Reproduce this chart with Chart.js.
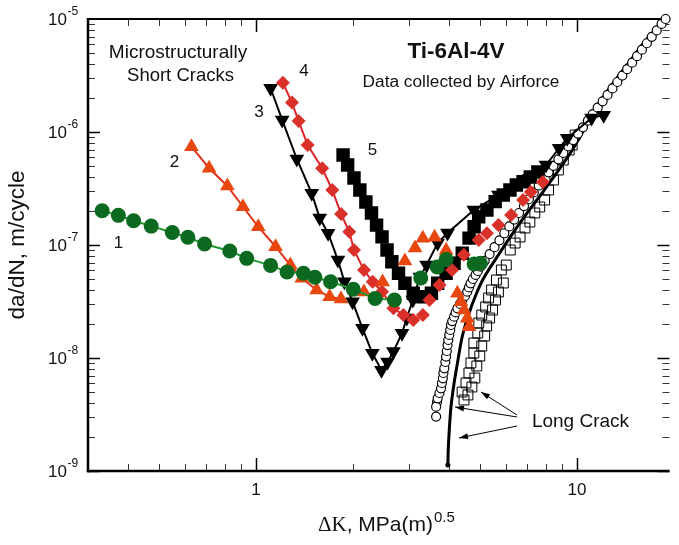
<!doctype html>
<html>
<head>
<meta charset="utf-8">
<title>Ti-6Al-4V short crack growth</title>
<script src="https://cdn.jsdelivr.net/npm/chart.js@4.4.1/dist/chart.umd.min.js"></script>
<style>
  html, body { margin: 0; padding: 0; background: #fff; overflow: hidden; }
  canvas { display: block; }
</style>
</head>
<body>
<canvas id="mycanvas" width="679" height="545"></canvas>
<script>
// values: dK in MPa(m)^0.5, da/dN in m/cycle
var crack1K    = [0.332, 0.373, 0.416, 0.472, 0.549, 0.614, 0.692, 0.829, 0.936, 1.111, 1.25, 1.406, 1.526, 1.708, 2.01, 2.35, 2.70];
var crack1Rate = [2.01e-7, 1.83e-7, 1.64e-7, 1.47e-7, 1.29e-7, 1.17e-7, 1.02e-7, 8.85e-8, 7.62e-8, 6.6e-8, 5.77e-8, 5.62e-8, 5.18e-8, 4.73e-8, 4.06e-8, 3.37e-8, 3.26e-8];
var crack1bK    = [3.26, 3.67, 3.91, 4.78, 5.0];
var crack1bRate = [5.1e-8, 6.4e-8, 7.46e-8, 6.8e-8, 6.89e-8];

var crack2K    = [0.630, 0.715, 0.815, 0.911, 1.017, 1.151, 1.28, 1.39, 1.545, 1.696, 1.84];
var crack2Rate = [7.41e-7, 4.78e-7, 3.33e-7, 2.18e-7, 1.45e-7, 9.66e-8, 6.65e-8, 5.07e-8, 4.0e-8, 3.48e-8, 3.33e-8];
var crack2bK    = [2.17, 2.48, 2.91, 3.13, 3.31, 3.60, 3.91, 4.24, 4.35, 4.45, 4.55, 4.61];
var crack2bRate = [3.84e-8, 4.71e-8, 7.2e-8, 9.4e-8, 1.15e-7, 1.17e-7, 9.0e-8, 3.74e-8, 3.15e-8, 2.66e-8, 2.25e-8, 1.89e-8];

var crack3K    = [1.111, 1.207, 1.341, 1.492, 1.58, 1.678, 1.80, 1.886, 2.0, 2.147, 2.304, 2.46, 2.57, 2.68, 2.85, 2.95, 3.08, 3.24, 3.40, 3.68, 3.95, 4.77, 5.69, 7.11, 8.0, 8.79, 9.32, 11.1, 12.1];
var crack3Rate = [2.44e-6, 1.28e-6, 5.77e-7, 2.87e-7, 1.73e-7, 1.27e-7, 7.36e-8, 4.73e-8, 3.15e-8, 1.83e-8, 1.10e-8, 7.8e-9, 9.2e-9, 1.14e-8, 1.66e-8, 2.26e-8, 3.26e-8, 5.2e-8, 6.65e-8, 1.04e-7, 1.28e-7, 2.04e-7, 2.77e-7, 3.89e-7, 5.1e-7, 7.18e-7, 8.8e-7, 1.33e-6, 1.41e-6];

var crack4K    = [1.213, 1.295, 1.358, 1.449, 1.608, 1.729, 1.842, 1.953, 2.02, 2.17, 2.31, 2.47, 2.68, 2.88, 3.09, 3.31];
var crack4Rate = [2.73e-6, 1.82e-6, 1.25e-6, 7.67e-7, 4.78e-7, 3.07e-7, 1.88e-7, 1.31e-7, 9.03e-8, 6.01e-8, 4.73e-8, 3.86e-8, 2.75e-8, 2.40e-8, 2.17e-8, 2.40e-8];
var crack4bK    = [3.47, 3.73, 4.08, 4.44, 4.94, 5.24, 5.69, 6.23, 6.79, 7.18, 7.82];
var crack4bRate = [3.26e-8, 4.43e-8, 6.0e-8, 8.2e-8, 1.11e-7, 1.27e-7, 1.5e-7, 1.84e-7, 2.5e-7, 2.94e-7, 3.61e-7];

var crack5K    = [1.868, 1.93, 2.02, 2.107, 2.20, 2.29, 2.375, 2.47, 2.56, 2.65, 2.78, 2.91, 3.09, 3.31, 3.52, 3.68, 3.91, 4.14, 4.39, 4.61, 4.78, 4.94, 5.24, 5.56, 5.89, 6.18, 6.47, 6.79, 7.15, 7.55];
var crack5Rate = [6.25e-7, 5.1e-7, 3.92e-7, 3.07e-7, 2.40e-7, 1.92e-7, 1.50e-7, 1.18e-7, 9.03e-8, 7.11e-8, 5.62e-8, 4.58e-8, 3.74e-8, 3.49e-8, 3.74e-8, 4.58e-8, 5.62e-8, 6.89e-8, 8.45e-8, 1.15e-7, 1.45e-7, 1.78e-7, 2.04e-7, 2.42e-7, 2.77e-7, 3.07e-7, 3.40e-7, 3.63e-7, 4.0e-7, 4.43e-7];

var longCircK = [3.64, 3.663, 3.64, 3.68, 3.728, 3.77, 3.794, 3.82, 3.835, 3.86, 3.889, 3.91, 3.93, 3.95, 3.972, 4.0, 4.028, 4.05, 4.086, 4.14, 4.188, 4.24, 4.322, 4.39, 4.478, 4.55, 4.605, 4.66, 4.738, 4.83, 4.908, 5.0,
  5.156, 5.341, 5.533, 5.731, 5.936, 6.149, 6.369, 6.597, 6.834, 7.079, 7.333, 7.596, 7.98, 8.152, 8.444, 8.747, 9.061, 9.386, 9.723, 10.07, 10.43, 10.81, 11.19, 11.59, 12.01, 12.44, 12.89, 13.35, 13.83, 14.32, 14.84, 15.37, 15.92, 16.49, 17.08, 17.70, 18.33, 18.86];
var longCircRate = [3.03e-9, 4.08e-9, 3.71e-9, 4.40e-9, 4.9e-9, 5.39e-9, 6.01e-9, 6.61e-9, 7.37e-9, 8.1e-9, 9.22e-9, 1.03e-8, 1.153e-8, 1.30e-8, 1.443e-8, 1.60e-8, 1.77e-8, 1.96e-8, 2.12e-8, 2.32e-8, 2.53e-8, 2.75e-8, 3.01e-8, 3.26e-8, 3.54e-8, 3.86e-8, 4.21e-8, 4.58e-8, 5.0e-8, 5.43e-8, 5.89e-8, 6.43e-8,
  7.24e-8, 8.32e-8, 9.57e-8, 1.10e-7, 1.27e-7, 1.46e-7, 1.68e-7, 1.92e-7, 2.21e-7, 2.54e-7, 2.92e-7, 3.36e-7, 3.86e-7, 4.40e-7, 5.02e-7, 5.73e-7, 6.53e-7, 7.45e-7, 8.49e-7, 9.68e-7, 1.10e-6, 1.26e-6, 1.44e-6, 1.64e-6, 1.87e-6, 2.13e-6, 2.43e-6, 2.77e-6, 3.16e-6, 3.60e-6, 4.11e-6, 4.69e-6, 5.35e-6, 6.10e-6, 6.95e-6, 7.93e-6, 9.05e-6, 1.0e-5];

var longSqK = [4.446, 4.385, 4.573, 4.509, 4.704, 4.605, 4.805, 4.671, 4.873, 4.770, 4.977, 4.770, 5.048, 4.907, 5.156, 4.942, 5.229, 5.048, 5.341, 5.192, 5.455, 5.303, 5.572, 5.416, 5.690, 5.610, 5.893,
  5.811, 6.020, 6.193, 6.415, 6.645, 6.883, 7.130, 7.386, 7.650, 7.925, 8.152, 8.444, 8.747, 9.061, 9.451, 9.654, 9.86];
var longSqRate = [4.25e-9, 5.0e-9, 4.71e-9, 6.01e-9, 5.54e-9, 7.37e-9, 6.65e-9, 9.03e-9, 8.5e-9, 1.107e-8, 1.041e-8, 1.357e-8, 1.277e-8, 1.664e-8, 1.566e-8, 2.04e-8, 1.92e-8, 2.40e-8, 2.26e-8, 2.83e-8, 2.66e-8, 3.40e-8, 3.26e-8, 4.0e-8, 3.84e-8, 4.90e-8, 4.61e-8,
  6.01e-8, 6.65e-8, 9.03e-8, 1.041e-7, 1.177e-7, 1.414e-7, 1.597e-7, 1.92e-7, 2.17e-7, 2.50e-7, 3.07e-7, 3.76e-7, 4.61e-7, 5.65e-7, 6.93e-7, 7.67e-7, 9.41e-7];

var longFitK    = [3.96, 3.97, 4.0, 4.05, 4.14, 4.24, 4.39, 4.61, 4.84, 5.12, 5.69, 6.32, 7.03, 7.82, 8.68, 9.66, 10.7, 11.9, 13.3, 14.7, 16.4, 18.2, 19.1];
var longFitRate = [1.13e-9, 1.53e-9, 2.31e-9, 3.71e-9, 5.97e-9, 8.97e-9, 1.55e-8, 2.49e-8, 3.61e-8, 5.1e-8, 8.17e-8, 1.28e-7, 1.96e-7, 2.94e-7, 4.43e-7, 6.93e-7, 1.15e-6, 1.92e-6, 3.0e-6, 4.33e-6, 6.52e-6, 8.85e-6, 1.0e-5];

var xTickLabels = ['1', '10'];
var yTickLabels = ['-9', '-8', '-7', '-6', '-5'];

function pts(k, r) {
  return k.map(function (v, i) { return { x: v, y: r[i] }; });
}

var green = '#0b6a1f', orange = '#e8470f', red = '#d9302a';

// first dataset is drawn on top
var datasets = [
  { data: pts(crack1K, crack1Rate), showLine: true, borderColor: '#1f9a2e', borderWidth: 2,
    pointStyle: 'circle', pointRadius: 7.5, pointBackgroundColor: green, pointBorderWidth: 0 },
  { data: pts(crack1bK, crack1bRate), showLine: false,
    pointStyle: 'circle', pointRadius: 7.5, pointBackgroundColor: green, pointBorderWidth: 0 },
  { data: pts(crack2K, crack2Rate), showLine: true, borderColor: '#e2321c', borderWidth: 2,
    pointStyle: 'triangle', pointRadius: 8.5, pointBackgroundColor: orange, pointBorderWidth: 0 },
  { data: pts(crack2bK, crack2bRate), showLine: false,
    pointStyle: 'triangle', pointRadius: 8.5, pointBackgroundColor: orange, pointBorderWidth: 0 },
  { data: pts(crack4K, crack4Rate), showLine: true, borderColor: '#e0242a', borderWidth: 2,
    pointStyle: 'rectRot', pointRadius: 7, pointBackgroundColor: red, pointBorderWidth: 0 },
  { data: pts(crack4bK, crack4bRate), showLine: false,
    pointStyle: 'rectRot', pointRadius: 7, pointBackgroundColor: red, pointBorderWidth: 0 },
  { data: pts(crack3K, crack3Rate), showLine: true, borderColor: '#000', borderWidth: 2,
    pointStyle: 'triangle', rotation: 180, pointRadius: 8.5, pointBackgroundColor: '#000', pointBorderWidth: 0 },
  { data: pts(crack5K, crack5Rate), showLine: false,
    pointStyle: 'rect', pointRadius: 9.5, pointBackgroundColor: '#000', pointBorderWidth: 0 },
  { data: pts(longCircK, longCircRate), showLine: false, clip: false,
    pointStyle: 'circle', pointRadius: 4.5, pointBackgroundColor: '#fff', pointBorderColor: '#000', pointBorderWidth: 1.2 },
  { data: pts(longFitK, longFitRate), showLine: true, borderColor: '#000', borderWidth: 3, tension: 0.3,
    pointRadius: longFitK.map(function (v, i) { return i === 0 ? 2.5 : 0; }), pointBackgroundColor: '#000', pointBorderWidth: 0 },
  { data: pts(longSqK, longSqRate), showLine: false,
    pointStyle: 'rect', pointRadius: 7, pointBackgroundColor: 'rgba(0,0,0,0)', pointBorderColor: '#000', pointBorderWidth: 1 }
];

function seg(ctx, x1, y1, x2, y2) {
  ctx.beginPath(); ctx.moveTo(x1, y1); ctx.lineTo(x2, y2); ctx.stroke();
}

function arrow(ctx, x1, y1, x2, y2) {
  seg(ctx, x1, y1, x2, y2);
  var ang = Math.atan2(y2 - y1, x2 - x1);
  ctx.beginPath();
  ctx.moveTo(x2, y2);
  ctx.lineTo(x2 - 9 * Math.cos(ang) + 3 * Math.sin(ang), y2 - 9 * Math.sin(ang) - 3 * Math.cos(ang));
  ctx.lineTo(x2 - 9 * Math.cos(ang) - 3 * Math.sin(ang), y2 - 9 * Math.sin(ang) + 3 * Math.cos(ang));
  ctx.closePath();
  ctx.fill();
}

// axes box with inward ticks, drawn under the data
var framePlugin = {
  id: 'frame',
  beforeDatasetsDraw: function (chart) {
    var ctx = chart.ctx, a = chart.chartArea, xs = chart.scales.x, ys = chart.scales.y;
    ctx.save();
    ctx.strokeStyle = '#000';
    var d, m, v, p, len;
    for (d = -9; d <= -6; d++) {
      for (m = 1; m <= 9; m++) {
        v = m * Math.pow(10, d);
        p = Math.round(ys.getPixelForValue(v)) + 0.5;
        len = m === 1 ? 12 : 7;
        ctx.lineWidth = m === 1 ? 1.5 : 1;
        ctx.strokeStyle = m === 1 ? '#000' : '#333';
        seg(ctx, a.left, p, a.left + len, p);
        seg(ctx, a.right, p, a.right - len, p);
      }
    }
    for (d = -1; d <= 1; d++) {
      for (m = 1; m <= 9; m++) {
        v = m * Math.pow(10, d);
        if (v < xs.min || v > xs.max) continue;
        p = Math.round(xs.getPixelForValue(v)) + 0.5;
        len = m === 1 ? 13 : 7;
        ctx.lineWidth = m === 1 ? 1.5 : 1;
        ctx.strokeStyle = m === 1 ? '#000' : '#333';
        seg(ctx, p, a.bottom, p, a.bottom - len);
        seg(ctx, p, a.top, p, a.top + len);
      }
    }
    ctx.strokeStyle = '#000';
    ctx.lineWidth = 2.5;
    seg(ctx, a.left, a.top - 1, a.left, a.bottom + 1.2);
    seg(ctx, a.left - 1.2, a.bottom, a.right, a.bottom);
    ctx.lineWidth = 2;
    seg(ctx, a.left, a.top, a.right, a.top);
    ctx.restore();
  },
  afterDatasetsDraw: function (chart) {
    var ctx = chart.ctx, a = chart.chartArea, xs = chart.scales.x, ys = chart.scales.y;
    ctx.save();
    ctx.fillStyle = '#111';
    ctx.textBaseline = 'middle';
    var sans = 'Arial, "Liberation Sans", sans-serif';

    // y tick labels 10^n
    yTickLabels.forEach(function (t) {
      var py = ys.getPixelForValue(Math.pow(10, Number(t)));
      ctx.font = '17px ' + sans;
      ctx.textAlign = 'right';
      ctx.fillText('10', a.left - 21, py + 1);
      ctx.font = '12px ' + sans;
      ctx.textAlign = 'left';
      ctx.fillText(t, a.left - 20.5, py - 7);
    });
    // x tick labels
    ctx.font = '17px ' + sans;
    ctx.textAlign = 'center';
    xTickLabels.forEach(function (t) {
      ctx.fillText(t, xs.getPixelForValue(Number(t)), a.bottom + 19);
    });

    // x title
    ctx.textAlign = 'left';
    ctx.textBaseline = 'alphabetic';
    var tx = 318, ty = 531;
    ctx.font = '21px "Liberation Serif", "Times New Roman", serif';
    ctx.fillText('\u0394K', tx, ty);
    tx += ctx.measureText('\u0394K').width;
    ctx.font = '21px ' + sans;
    ctx.fillText(', MPa(m)', tx, ty);
    tx += ctx.measureText(', MPa(m)').width + 1;
    ctx.font = '15px ' + sans;
    ctx.fillText('0.5', tx, ty - 9);

    // y title
    ctx.save();
    ctx.translate(18, 245);
    ctx.rotate(-Math.PI / 2);
    ctx.textAlign = 'center';
    ctx.textBaseline = 'middle';
    ctx.font = '22.5px ' + sans;
    ctx.fillText('da/dN, m/cycle', 0, 0);
    ctx.restore();

    // annotations
    ctx.textAlign = 'center';
    ctx.textBaseline = 'middle';
    ctx.font = '19px ' + sans;
    ctx.fillText('Microstructurally', 178, 53);
    ctx.font = '18.5px ' + sans;
    ctx.fillText('Short Cracks', 180.5, 76);
    ctx.font = 'bold 22.5px ' + sans;
    ctx.fillText('Ti-6Al-4V', 456, 52);
    ctx.font = '17.3px ' + sans;
    ctx.fillText('Data collected by Airforce', 461, 82);
    ctx.font = '17px ' + sans;
    ctx.fillText('1', 118.5, 243);
    ctx.fillText('2', 174.5, 162.5);
    ctx.fillText('3', 259, 112);
    ctx.fillText('4', 304, 71);
    ctx.fillText('5', 372.5, 150);
    ctx.font = '19px ' + sans;
    ctx.fillText('Long Crack', 580.5, 421.5);

    // arrows to long crack data
    ctx.strokeStyle = '#000';
    ctx.fillStyle = '#000';
    ctx.lineWidth = 1;
    arrow(ctx, 517, 415, 481, 392);
    arrow(ctx, 517, 417, 455, 407);
    arrow(ctx, 517, 426, 459, 438);
    ctx.restore();
  }
};

var ctx = document.getElementById('mycanvas');
var crackChart = new Chart(ctx, {
  type: 'scatter',
  data: { datasets: datasets },
  options: {
    responsive: false,
    devicePixelRatio: 1,
    animation: false,
    layout: { padding: { left: 88, top: 19, right: 0, bottom: 74 } },
    plugins: { legend: { display: false }, tooltip: { enabled: false } },
    scales: {
      x: { type: 'logarithmic', min: 0.3, max: 19.4, display: false },
      y: { type: 'logarithmic', min: 1e-9, max: 1e-5, display: false }
    }
  },
  plugins: [framePlugin]
});
</script>
</body>
</html>
